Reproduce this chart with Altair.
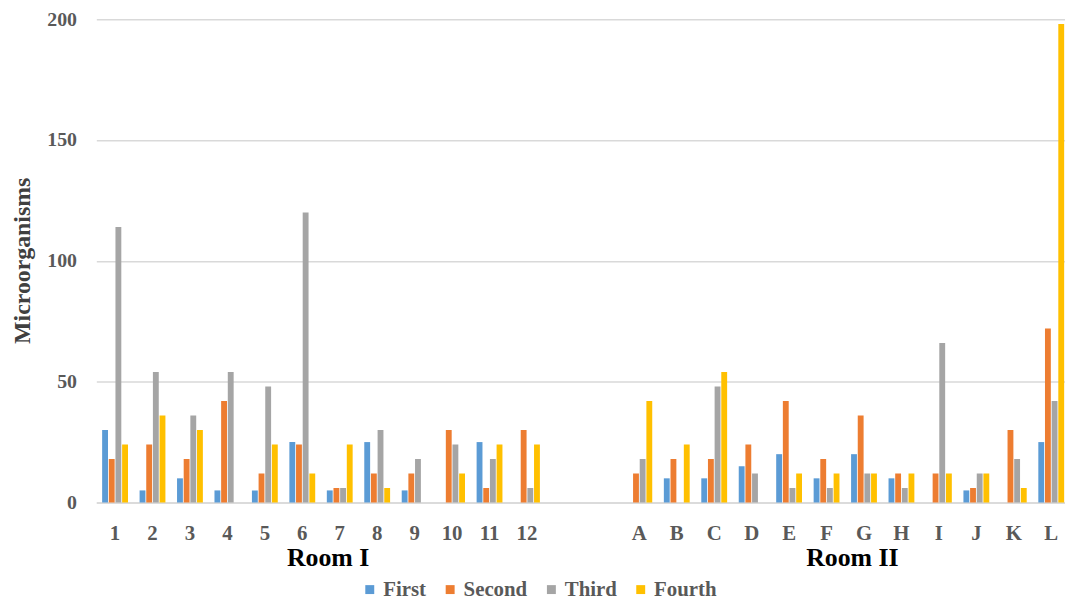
import altair as alt
import pandas as pd

room1 = ["1", "2", "3", "4", "5", "6", "7", "8", "9", "10", "11", "12"]
gaps = [" ", "  "]
room2 = ["A", "B", "C", "D", "E", "F", "G", "H", "I", "J", "K", "L"]
categories = room1 + room2
series = ["First", "Second", "Third", "Fourth"]
colors = ["#5B9BD5", "#ED7D31", "#A5A5A5", "#FFC000"]

first = [30, 5, 10, 5, 5, 25, 5, 25, 5, 0, 25, 0,
         0, 10, 10, 15, 20, 10, 20, 10, 0, 5, 0, 25]
second = [18, 24, 18, 42, 12, 24, 6, 12, 12, 30, 6, 30,
          12, 18, 18, 24, 42, 18, 36, 12, 12, 6, 30, 72]
third = [114, 54, 36, 54, 48, 120, 6, 30, 18, 24, 18, 6,
         18, 0, 48, 12, 6, 6, 12, 6, 66, 12, 18, 42]
fourth = [24, 36, 30, 0, 24, 12, 24, 6, 0, 12, 24, 24,
          42, 24, 54, 0, 12, 12, 12, 12, 12, 12, 6, 198]

room_labels = ["Room I", "Room II"]
room_anchor = ["6", "F"]

rows = []
for s, vals in zip(series, [first, second, third, fourth]):
    for c, v in zip(categories, vals):
        rows.append({"cat": c, "series": s, "value": v})
df = pd.DataFrame(rows)
rooms = pd.DataFrame({"cat": room_anchor, "label": room_labels})

domain = room1 + gaps + room2
FONT = "Liberation Serif"
xscale = alt.Scale(domain=domain, range=[0, 981], paddingInner=0.31, paddingOuter=0.155)

bars = alt.Chart(df).mark_bar().encode(
    x=alt.X("cat:N", scale=xscale, sort=domain,
            axis=alt.Axis(title=None, labelAngle=0, ticks=False, domainColor="#d9d9d9",
                          domainWidth=1.5, labelFont=FONT, labelFontWeight="bold",
                          labelFontSize=21, labelColor="#595959", labelPadding=20)),
    xOffset=alt.XOffset("series:N", scale=alt.Scale(domain=series, paddingInner=0.12)),
    y=alt.Y("value:Q", scale=alt.Scale(domain=[0, 200], nice=False),
            axis=alt.Axis(title="Microorganisms", values=[0, 50, 100, 150, 200], domain=False,
                          ticks=False, gridColor="#d9d9d9", gridWidth=1.5,
                          labelFont=FONT, labelFontWeight="bold", labelFontSize=20,
                          labelColor="#595959", labelPadding=20,
                          titleFont=FONT, titleFontWeight="bold", titleFontSize=24,
                          titleColor="#404040", titleX=-74, titleY=243, titleAngle=270,
                          titleAlign="center", titleBaseline="middle")),
    color=alt.Color("series:N", scale=alt.Scale(domain=series, range=colors),
                    legend=alt.Legend(title=None, orient="none", direction="horizontal",
                                      legendX=265, legendY=564, symbolType="square",
                                      symbolSize=81, symbolStrokeWidth=0, labelOffset=3,
                                      columnPadding=13, labelFont=FONT,
                                      labelFontWeight="bold", labelFontSize=21,
                                      labelColor="#595959")),
)

texts = alt.Chart(rooms).mark_text(
    font=FONT, fontWeight="bold", fontSize=26, color="#000000",
    baseline="middle", align="center", dx=26
).encode(
    x=alt.X("cat:N", scale=xscale, sort=domain),
    y=alt.value(543),
    text="label:N",
)

chart = alt.layer(bars, texts).properties(
    width=976, height=487,
    autosize=alt.AutoSizeParams(type="none"),
    padding={"left": 89, "top": 9, "right": 0, "bottom": 96},
).configure_view(strokeWidth=0)

chart.save("out.html", embed_options={"renderer": "svg", "actions": False})
